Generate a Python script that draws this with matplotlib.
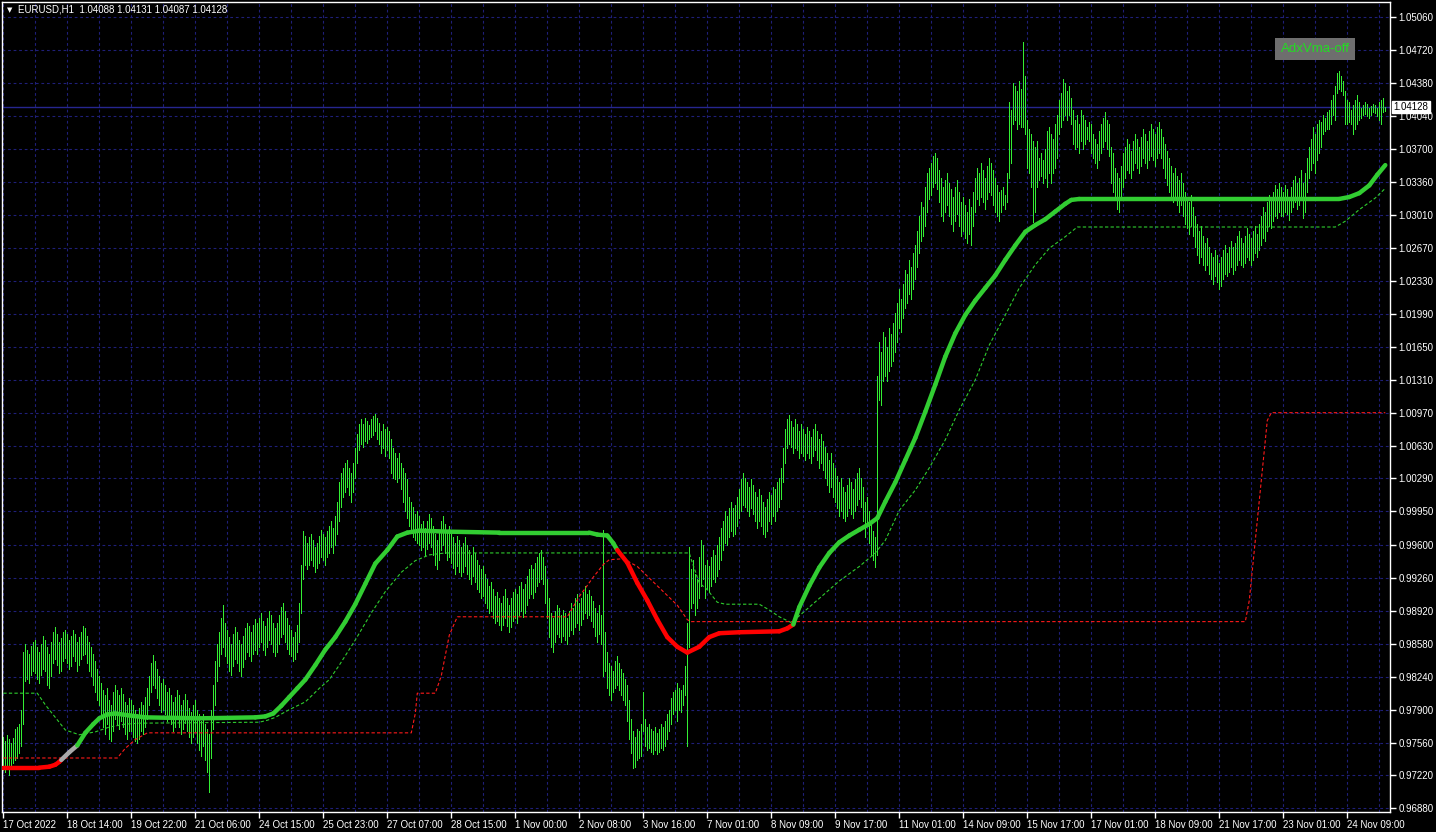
import matplotlib
matplotlib.use('Agg')
import matplotlib.pyplot as plt
import numpy as np

# EURUSD H1 bars, high / low in 1e-4 (one row = 16 bars)
highs = [
    9762, 9758, 9764, 9760, 9755, 9761, 9770, 9772, 9775, 9790, 9850, 9858, 9852, 9848, 9856, 9860,
    9862, 9855, 9850, 9858, 9866, 9862, 9855, 9848, 9860, 9870, 9875, 9868, 9860, 9864, 9870, 9872,
    9868, 9862, 9866, 9872, 9868, 9860, 9865, 9870, 9876, 9874, 9866, 9860, 9855, 9848, 9840, 9832,
    9825, 9818, 9810, 9805, 9812, 9800, 9795, 9808, 9815, 9810, 9805, 9812, 9806, 9798, 9795, 9802,
    9800, 9795, 9790, 9785, 9792, 9798, 9795, 9803, 9812, 9825, 9838, 9846, 9840, 9832, 9825, 9818,
    9822, 9815, 9808, 9812, 9805, 9798, 9803, 9810, 9805, 9795, 9800, 9806, 9800, 9792, 9788, 9795,
    9800, 9790, 9785, 9778, 9785, 9775, 9770, 9765, 9790, 9815, 9840, 9858, 9870, 9885, 9898, 9880,
    9872, 9865, 9858, 9868, 9875, 9870, 9862, 9858, 9866, 9874, 9880, 9876, 9870, 9878, 9884, 9880,
    9885, 9890, 9882, 9876, 9885, 9892, 9888, 9880, 9874, 9880, 9888, 9896, 9900, 9892, 9885, 9878,
    9872, 9865, 9870, 9878, 9900, 9940, 9975, 9970, 9962, 9968, 9972, 9965, 9958, 9962, 9970, 9976,
    9972, 9968, 9975, 9980, 9985, 9978, 9990, 10005, 10025, 10035, 10040, 10045, 10048, 10040, 10035, 10045,
    10060, 10075, 10085, 10090, 10085, 10092, 10088, 10084, 10090, 10094, 10096, 10092, 10086, 10078, 10085, 10080,
    10082, 10078, 10070, 10060, 10055, 10050, 10055, 10045, 10040, 10035, 10028, 10010, 10005, 10000, 9992, 9995,
    9990, 9982, 9985, 9978, 9985, 9992, 9988, 9980, 9972, 9965, 9975, 9985, 9990, 9982, 9975, 9980,
    9975, 9968, 9962, 9970, 9965, 9958, 9962, 9968, 9960, 9955, 9950, 9958, 9952, 9945, 9940, 9935,
    9938, 9930, 9925, 9918, 9922, 9915, 9908, 9912, 9905, 9900, 9908, 9915, 9905, 9898, 9905, 9912,
    9915, 9910, 9918, 9922, 9915, 9920, 9928, 9935, 9940, 9935, 9942, 9948, 9952, 9955, 9948, 9938,
    9925, 9905, 9890, 9885, 9892, 9898, 9895, 9888, 9893, 9890, 9885, 9892, 9900, 9895, 9905, 9910,
    9900, 9905, 9912, 9918, 9910, 9914, 9908, 9902, 9895, 9890, 9898, 9888, 9976, 9870, 9850, 9838,
    9835, 9830, 9840, 9845, 9838, 9832, 9828, 9822, 9815, 9800, 9780, 9768, 9762, 9770, 9768, 9775,
    9808, 9780, 9772, 9775, 9770, 9768, 9772, 9766, 9770, 9775, 9772, 9778, 9785, 9790, 9802, 9808,
    9810, 9818, 9812, 9810, 9815, 9835, 9880, 9958, 9935, 9945, 9930, 9925, 9948, 9965, 9960, 9940,
    9945, 9938, 9948, 9955, 9950, 9960, 9968, 9978, 9985, 9995, 9990, 9998, 10005, 9998, 10002, 10010,
    10018, 10028, 10035, 10030, 10025, 10020, 10028, 10022, 10015, 10010, 10018, 10012, 10005, 10000, 10008, 10015,
    10012, 10020, 10018, 10025, 10030, 10040, 10060, 10080, 10090, 10095, 10088, 10082, 10090, 10085, 10078, 10085,
    10080, 10075, 10082, 10078, 10072, 10080, 10085, 10078, 10070, 10075, 10068, 10062, 10055, 10048, 10055, 10045,
    10040, 10032, 10025, 10030, 10020, 10015, 10022, 10030, 10025, 10018, 10028, 10035, 10040, 10030, 10020, 10005,
    10010, 9995, 9985, 9975, 9968, 10135, 10170, 10160, 10180, 10175, 10165, 10185, 10178, 10190, 10200, 10210,
    10225, 10215, 10230, 10245, 10240, 10255, 10248, 10262, 10270, 10285, 10300, 10315, 10310, 10330, 10345, 10350,
    10355, 10362, 10366, 10360, 10348, 10340, 10330, 10338, 10345, 10335, 10328, 10320, 10330, 10338, 10325, 10315,
    10320, 10312, 10305, 10318, 10310, 10325, 10340, 10350, 10345, 10355, 10348, 10340, 10352, 10360, 10355, 10348,
    10340, 10332, 10325, 10327, 10330, 10322, 10345, 10418, 10410, 10438, 10435, 10430, 10440, 10432, 10480, 10445,
    10400, 10390, 10385, 10378, 10372, 10378, 10360, 10365, 10358, 10370, 10388, 10392, 10385, 10380, 10395, 10405,
    10420, 10428, 10442, 10438, 10430, 10435, 10422, 10410, 10400, 10405, 10395, 10410, 10405, 10400, 10392, 10398,
    10395, 10385, 10380, 10375, 10388, 10395, 10402, 10408, 10400, 10395, 10372, 10365, 10350, 10345, 10340, 10352,
    10365, 10372, 10380, 10375, 10368, 10378, 10385, 10380, 10372, 10382, 10390, 10385, 10378, 10388, 10395, 10390,
    10385, 10392, 10398, 10390, 10382, 10375, 10368, 10360, 10352, 10345, 10350, 10342, 10338, 10345, 10335, 10325,
    10320, 10315, 10322, 10310, 10300, 10292, 10285, 10290, 10280, 10272, 10278, 10268, 10262, 10258, 10265, 10260,
    10252, 10258, 10265, 10270, 10262, 10268, 10275, 10268, 10272, 10280, 10285, 10278, 10272, 10280, 10288, 10282,
    10278, 10285, 10290, 10282, 10292, 10300, 10310, 10305, 10315, 10322, 10318, 10325, 10332, 10328, 10335, 10330,
    10325, 10332, 10328, 10320, 10330, 10338, 10342, 10335, 10340, 10348, 10335, 10345, 10360, 10372, 10380, 10392,
    10385, 10395, 10400, 10398, 10405, 10402, 10408, 10410, 10420, 10425, 10435, 10448, 10450, 10445, 10440, 10430,
    10420, 10418, 10410, 10415, 10420, 10425, 10418, 10412, 10415, 10418, 10416, 10412, 10414, 10416, 10415, 10412,
    10418, 10420, 10422, 10413,
]
lows = [
    9728, 9726, 9733, 9722, 9730, 9735, 9738, 9740, 9745, 9752, 9775, 9820, 9822, 9818, 9826, 9830,
    9828, 9822, 9818, 9826, 9832, 9830, 9815, 9812, 9825, 9838, 9842, 9836, 9828, 9830, 9840, 9843,
    9838, 9832, 9835, 9845, 9840, 9830, 9836, 9842, 9846, 9848, 9838, 9830, 9825, 9815, 9808, 9800,
    9795, 9785, 9772, 9765, 9775, 9760, 9758, 9768, 9780, 9775, 9770, 9778, 9772, 9765, 9760, 9768,
    9768, 9762, 9758, 9756, 9760, 9768, 9765, 9772, 9780, 9795, 9808, 9815, 9812, 9802, 9795, 9788,
    9790, 9785, 9778, 9782, 9775, 9768, 9772, 9780, 9772, 9765, 9770, 9776, 9768, 9762, 9755, 9762,
    9768, 9755, 9748, 9742, 9752, 9738, 9725, 9705, 9740, 9770, 9795, 9820, 9835, 9848, 9855, 9845,
    9838, 9830, 9826, 9835, 9842, 9838, 9830, 9825, 9834, 9842, 9850, 9845, 9840, 9848, 9852, 9848,
    9855, 9860, 9852, 9846, 9855, 9862, 9858, 9850, 9845, 9850, 9858, 9865, 9868, 9860, 9853, 9848,
    9845, 9840, 9842, 9850, 9860, 9890, 9925, 9940, 9935, 9940, 9945, 9938, 9932, 9936, 9942, 9948,
    9945, 9940, 9948, 9952, 9958, 9952, 9960, 9972, 9985, 10000, 10010, 10015, 10020, 10012, 10005, 10015,
    10030, 10045, 10058, 10065, 10062, 10068, 10066, 10070, 10072, 10074, 10078, 10070, 10065, 10055, 10060, 10052,
    10058, 10050, 10035, 10030, 10028, 10025, 10030, 10018, 10005, 9995, 9988, 9980, 9975, 9968, 9965, 9962,
    9960, 9955, 9958, 9950, 9956, 9962, 9958, 9950, 9940, 9935, 9945, 9955, 9960, 9952, 9945, 9948,
    9942, 9936, 9930, 9938, 9932, 9928, 9932, 9938, 9930, 9925, 9920, 9928, 9922, 9915, 9912, 9905,
    9908, 9900, 9895, 9890, 9892, 9885, 9880, 9882, 9878, 9872, 9878, 9885, 9876, 9870, 9875, 9882,
    9885, 9880, 9888, 9892, 9886, 9890, 9898, 9905, 9910, 9905, 9912, 9918, 9922, 9925, 9920, 9900,
    9885, 9865, 9855, 9850, 9860, 9868, 9865, 9860, 9866, 9862, 9858, 9866, 9872, 9868, 9875, 9880,
    9872, 9878, 9884, 9890, 9885, 9888, 9882, 9875, 9866, 9860, 9868, 9858, 9825, 9830, 9812, 9805,
    9800, 9808, 9812, 9815, 9810, 9805, 9800, 9795, 9778, 9760, 9745, 9730, 9731, 9738, 9740, 9742,
    9768, 9752, 9748, 9750, 9746, 9744, 9748, 9744, 9746, 9750, 9748, 9752, 9760, 9768, 9775, 9785,
    9790, 9778, 9790, 9788, 9795, 9805, 9752, 9855, 9895, 9900, 9888, 9895, 9905, 9918, 9925, 9905,
    9915, 9912, 9918, 9925, 9922, 9928, 9935, 9945, 9955, 9962, 9960, 9968, 9975, 9970, 9972, 9980,
    9988, 9995, 10002, 10000, 9995, 9990, 9998, 9992, 9985, 9978, 9985, 9980, 9972, 9968, 9975, 9985,
    9982, 9990, 9985, 9995, 10000, 10008, 10025, 10045, 10060, 10065, 10062, 10055, 10060, 10058, 10050, 10055,
    10052, 10048, 10055, 10050, 10045, 10052, 10058, 10048, 10040, 10045, 10038, 10030, 10022, 10015, 10020, 10010,
    10005, 9998, 9990, 9995, 9988, 9985, 9990, 9998, 9992, 9988, 9995, 10002, 10008, 10000, 9985, 9968,
    9980, 9962, 9950, 9945, 9937, 9950, 10110, 10105, 10130, 10135, 10130, 10140, 10145, 10150, 10160, 10170,
    10185, 10180, 10195, 10205, 10210, 10220, 10215, 10225, 10235, 10248, 10262, 10275, 10280, 10290, 10305, 10318,
    10322, 10330, 10335, 10328, 10315, 10300, 10295, 10305, 10312, 10300, 10292, 10285, 10295, 10302, 10290, 10280,
    10285, 10278, 10272, 10282, 10270, 10290, 10305, 10318, 10312, 10320, 10315, 10308, 10318, 10325, 10322, 10312,
    10305, 10300, 10295, 10305, 10312, 10308, 10315, 10340, 10355, 10395, 10400, 10390, 10395, 10392, 10392, 10385,
    10350, 10345, 10330, 10294, 10305, 10330, 10338, 10342, 10335, 10340, 10330, 10345, 10335, 10345, 10350, 10360,
    10385, 10392, 10400, 10405, 10400, 10405, 10395, 10375, 10370, 10372, 10365, 10378, 10370, 10375, 10380, 10378,
    10365, 10360, 10355, 10350, 10358, 10365, 10372, 10378, 10370, 10362, 10335, 10325, 10318, 10308, 10305, 10318,
    10330, 10340, 10348, 10345, 10340, 10348, 10355, 10350, 10345, 10352, 10360, 10355, 10350, 10358, 10362, 10358,
    10352, 10360, 10365, 10360, 10350, 10340, 10332, 10325, 10318, 10315, 10320, 10312, 10305, 10312, 10300, 10292,
    10288, 10282, 10290, 10280, 10268, 10260, 10252, 10258, 10250, 10245, 10250, 10240, 10235, 10230, 10238, 10232,
    10225, 10228, 10235, 10240, 10238, 10242, 10248, 10240, 10245, 10250, 10255, 10250, 10248, 10252, 10258, 10255,
    10250, 10255, 10262, 10258, 10265, 10270, 10278, 10275, 10285, 10290, 10288, 10295, 10300, 10298, 10305, 10300,
    10300, 10305, 10302, 10296, 10305, 10310, 10315, 10308, 10312, 10318, 10298, 10305, 10325, 10340, 10348, 10355,
    10345, 10358, 10365, 10372, 10385, 10388, 10390, 10390, 10395, 10405, 10400, 10428, 10432, 10430, 10425, 10395,
    10395, 10398, 10395, 10385, 10390, 10395, 10400, 10402, 10405, 10406, 10404, 10402, 10405, 10408, 10407, 10404,
    10400, 10395, 10408, 10409,
]

# AdxVma line: bar index, value (1e-4), state (D=down red, N=neutral grey, U=up green)
vma_i = [0, 18, 23, 26, 28, 29, 33, 37, 41, 45, 48, 52, 56, 63, 71, 98, 126, 131, 135, 139,
         143, 147, 151, 156, 161, 166, 171, 176, 181, 186, 192, 197, 202, 208, 223, 248, 293, 297, 302, 305,
         307, 312, 317, 322, 327, 332, 337, 342, 348, 353, 358, 368, 388, 392,
         395, 398, 403, 408, 413, 418, 423, 428, 433, 437, 441, 446, 451, 456, 461, 466,
         471, 476, 481, 486, 491, 496, 501, 506, 511, 516, 521, 526, 531, 534, 538, 668,
         673, 678, 683, 687, 691]
vma_v = [9730, 9730, 9731, 9733, 9736, 9738, 9746, 9753, 9766, 9775, 9781, 9785, 9786, 9784, 9782, 9781, 9782, 9783, 9786, 9794,
         9803, 9812, 9821, 9836, 9852, 9865, 9881, 9899, 9920, 9941, 9955, 9969, 9973, 9975, 9974, 9973, 9973, 9971, 9970, 9962,
         9955, 9942, 9921, 9903, 9883, 9865, 9855, 9849, 9855, 9865, 9869, 9870, 9871, 9874,
         9878, 9896, 9918, 9937, 9952, 9963, 9970, 9976, 9982, 9988, 10005, 10025, 10048, 10071, 10098, 10126,
         10155, 10179, 10198, 10213, 10226, 10239, 10255, 10270, 10284, 10291, 10297, 10305, 10313, 10317, 10318, 10318,
         10320, 10324, 10332, 10343, 10353]
vma_state = ['D'] * 5 + ['N'] * 2 + ['U'] * 33 + ['D'] * 14 + ['U'] * 37

# upper dashed line (green)
up_i = [0, 17, 21, 26, 31, 38, 46, 53, 61, 68, 128, 132, 136, 143, 151, 158, 163, 168, 176, 184,
        191, 199, 206, 213, 221, 343, 344, 348, 352, 357, 361, 378, 383, 388, 394, 398, 408, 418, 428, 436,
        441, 448, 456, 463, 471, 478, 486, 493, 501, 508, 516, 523, 531, 537, 666, 671, 678, 686, 691]
up_v = [9807, 9807, 9795, 9782, 9769, 9764, 9767, 9772, 9775, 9776, 9777, 9779, 9782, 9790, 9798, 9812, 9821, 9836, 9862, 9890,
        9912, 9932, 9944, 9950, 9952, 9952, 9945, 9921, 9914, 9901, 9899, 9899, 9893, 9886, 9880, 9887, 9905, 9923, 9938, 9952,
        9965, 9996, 10017, 10040, 10069, 10100, 10131, 10167, 10198, 10226, 10250, 10267, 10279, 10289, 10289, 10295, 10307, 10319, 10329]

# lower dashed line (red)
dn_i = [0, 57, 61, 66, 72, 204, 206, 207, 216, 219, 223, 227, 282, 288, 295, 300, 303, 310, 317, 323,
        330, 337, 342, 344, 621, 623, 626, 629, 632, 634, 691]
dn_v = [9740, 9740, 9750, 9759, 9766, 9766, 9786, 9807, 9807, 9825, 9867, 9886, 9886, 9907, 9927, 9940, 9945, 9946, 9938, 9926,
        9912, 9898, 9883, 9881, 9881, 9903, 9965, 10027, 10089, 10097, 10097]

price_ticks = [1.05060, 1.04720, 1.04380, 1.04040, 1.03700, 1.03360, 1.03010, 1.02670, 1.02330,
               1.01990, 1.01650, 1.01310, 1.00970, 1.00630, 1.00290, 0.99950, 0.99600, 0.99260,
               0.98920, 0.98580, 0.98240, 0.97900, 0.97560, 0.97220, 0.96880]
date_labels = ['17 Oct 2022', '18 Oct 14:00', '19 Oct 22:00', '21 Oct 06:00', '24 Oct 15:00',
               '25 Oct 23:00', '27 Oct 07:00', '28 Oct 15:00', '1 Nov 00:00', '2 Nov 08:00',
               '3 Nov 16:00', '7 Nov 01:00', '8 Nov 09:00', '9 Nov 17:00', '11 Nov 01:00',
               '14 Nov 09:00', '15 Nov 17:00', '17 Nov 01:00', '18 Nov 09:00', '21 Nov 17:00',
               '23 Nov 01:00', '24 Nov 09:00']
last_price = 1.04128
header = 'EURUSD,H1  1.04088 1.04131 1.04087 1.04128'

plt.rcParams['font.family'] = ['Liberation Sans', 'DejaVu Sans']

W, H = 1436, 832
fig = plt.figure(figsize=(W / 100, H / 100), dpi=100, facecolor='black')
ax = fig.add_axes([2 / W, (H - 812) / H, 1388 / W, 810 / H], facecolor='black')

hi = np.array(highs) / 1e4
lo = np.array(lows) / 1e4
idx = np.arange(len(hi))

grid_col = '#1f1f78'
for p in price_ticks:
    ax.axhline(p, color=grid_col, lw=0.8, dashes=(2.5, 2.5), zorder=0)
for k in range(0, 700, 16):
    ax.axvline(k, color=grid_col, lw=0.8, dashes=(2.5, 2.5), zorder=0)
ax.axhline(last_price, color='#26268f', lw=1.0, zorder=1)

ax.vlines(idx, lo, hi, color='#33ee33', lw=0.72, antialiased=False, zorder=2)

ax.plot(up_i, np.array(up_v) / 1e4, color='#2ecc2e', lw=0.8, dashes=(3, 2), zorder=3)
ax.plot(dn_i, np.array(dn_v) / 1e4, color='#ff1a1a', lw=0.8, dashes=(3, 2), zorder=3)

state_col = {'D': '#ff0000', 'N': '#a8a8a8', 'U': '#32cd32'}
vv = np.array(vma_v) / 1e4
for k in range(len(vma_i) - 1):
    ax.plot(vma_i[k:k + 2], vv[k:k + 2], color=state_col[vma_state[k]], lw=3.2,
            solid_capstyle='round', zorder=4)

ax.set_xlim(-0.65, 693.35)
ax.set_ylim(0.968416, 1.052163)

ax.yaxis.tick_right()
ax.set_yticks(price_ticks)
ax.set_yticklabels(['%.5f' % p for p in price_ticks])
ax.set_xticks(range(0, 32 * len(date_labels), 32))
ax.set_xticklabels(date_labels, ha='left')
ax.tick_params(axis='y', colors='white', length=4, width=1, pad=2, labelsize=7)
ax.tick_params(axis='x', colors='white', length=4, width=1, pad=1.5, labelsize=7)
for s in ax.spines.values():
    s.set_color('white')
    s.set_linewidth(1)

ax.annotate('%.5f' % last_price, xy=(1, last_price), xycoords=('axes fraction', 'data'),
            xytext=(2.5, 0), textcoords='offset points', ha='left', va='center',
            fontsize=7, color='black',
            bbox=dict(boxstyle='square,pad=0.12', fc='white', ec='white'))

fig.text(7 / W, 1 - 10 / H, '\u25bc', color='white', fontsize=5, va='center',
         family='DejaVu Sans')
fig.text(18 / W, 1 - 10 / H, header, color='white', fontsize=7, va='center')
fig.text(1315 / W, 1 - 49 / H, 'AdxVma-off', color='#22dd22', fontsize=9.5, ha='center', va='center',
         bbox=dict(boxstyle='square,pad=0.38', fc='#6e6e6e', ec='none'))

plt.savefig('out.png', dpi=100, facecolor='black')
